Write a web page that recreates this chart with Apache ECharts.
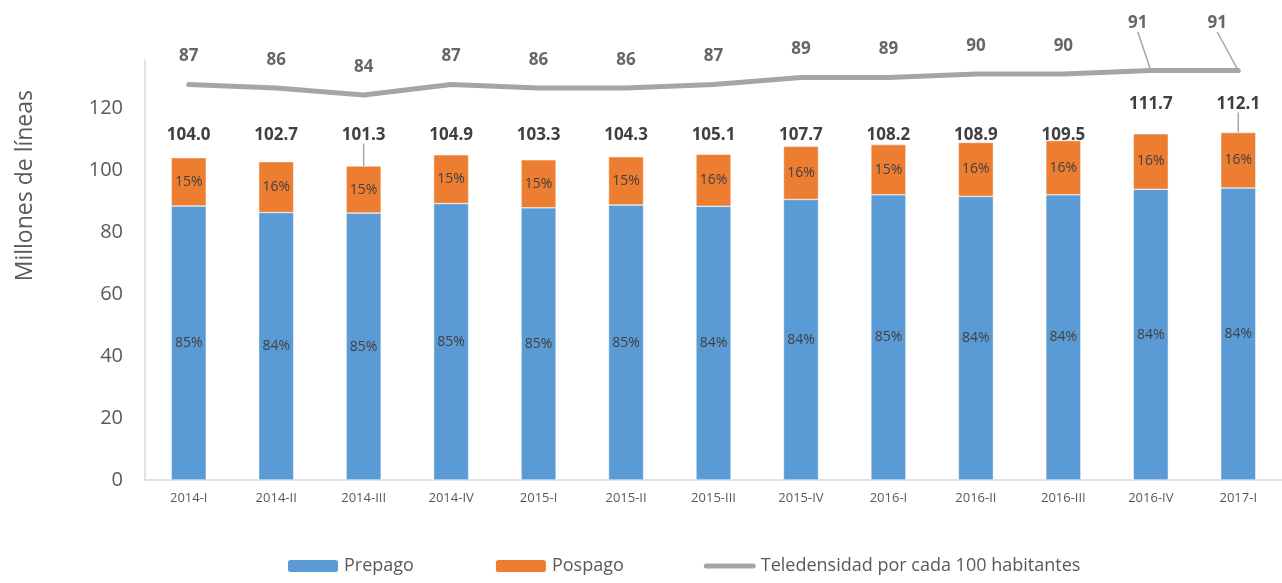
<!DOCTYPE html>
<html>
<head>
<meta charset="utf-8">
<script src="https://cdn.jsdelivr.net/npm/echarts@6/dist/echarts.min.js"></script>
<style>
  html, body { margin: 0; padding: 0; background: #fff; }
  #chart { width: 1282px; height: 583px; }
</style>
</head>
<body>
<div id="chart"></div>
<script>
const categories = ['2014-I', '2014-II', '2014-III', '2014-IV', '2015-I', '2015-II', '2015-III', '2015-IV', '2016-I', '2016-II', '2016-III', '2016-IV', '2017-I']
const prepago = [88.4, 86.3, 86.1, 89.2, 87.8, 88.7, 88.3, 90.5, 92.0, 91.5, 92.0, 93.8, 94.2]
const pospago = [15.6, 16.4, 15.2, 15.7, 15.5, 15.6, 16.8, 17.2, 16.2, 17.4, 17.5, 17.9, 17.9]
const totals = ['104.0', '102.7', '101.3', '104.9', '103.3', '104.3', '105.1', '107.7', '108.2', '108.9', '109.5', '111.7', '112.1']
const prepagoPct = ['85%', '84%', '85%', '85%', '85%', '85%', '84%', '84%', '85%', '84%', '84%', '84%', '84%']
const pospagoPct = ['15%', '16%', '15%', '15%', '15%', '15%', '16%', '16%', '15%', '16%', '16%', '16%', '16%']
const teledensidad = [87, 86, 84, 87, 86, 86, 87, 89, 89, 90, 90, 91, 91]

const font = '"Open Sans", sans-serif'
const textColor = '#595959'
const labelColor = '#404040'
const lineName = 'Teledensidad por cada 100 habitantes'
// thin rounded bar used as the legend icon of the line
const lineIcon = 'path://M2.5,0 L49.5,0 A2.5,2.5 0 0 1 49.5,5 L2.5,5 A2.5,2.5 0 0 1 2.5,0 Z'

const chart = echarts.init(document.getElementById('chart'))
chart.setOption({
  animation: false,
  textStyle: { fontFamily: font },
  grid: {
    left: 145,
    width: 1140,
    top: 60,
    bottom: 103
  },
  legend: {
    bottom: 3,
    left: 281,
    itemWidth: 52,
    itemHeight: 14,
    itemGap: 80,
    textStyle: { fontSize: 18, color: textColor, fontFamily: font },
    data: ['Prepago', 'Pospago', { name: lineName, icon: lineIcon }]
  },
  graphic: [
    {
      type: 'text',
      left: 14,
      top: 90,
      rotation: Math.PI / 2,
      style: {
        text: 'Millones de líneas',
        fontSize: 23,
        fill: textColor,
        fontFamily: font
      }
    }
  ],
  xAxis: {
    type: 'category',
    data: categories,
    axisLine: { lineStyle: { color: '#d9d9d9', width: 1.5 } },
    axisTick: { show: false },
    axisLabel: { color: textColor, fontSize: 13, margin: 12 }
  },
  yAxis: [
    {
      type: 'value',
      min: 0,
      max: 135.5,
      interval: 20,
      axisLine: { show: true, lineStyle: { color: '#d9d9d9', width: 1.5 } },
      axisTick: { show: false },
      splitLine: { show: false },
      axisLabel: {
        color: textColor,
        fontSize: 20,
        margin: 22,
        showMaxLabel: false,
        formatter: function(v) {
          return v % 20 === 0 ? v : ''
        }
      }
    },
    {
      type: 'value',
      min: -26,
      max: 94,
      show: false,
      splitLine: { show: false }
    }
  ],
  series: [
    {
      name: 'Prepago',
      type: 'bar',
      stack: 'lineas',
      barWidth: 35,
      itemStyle: { color: '#5B9BD5', borderColor: '#fff', borderWidth: 0.5 },
      label: {
        show: true,
        position: 'inside',
        color: labelColor,
        fontSize: 14,
        formatter: function(p) {
          return prepagoPct[p.dataIndex]
        }
      },
      data: prepago
    },
    {
      name: 'Pospago',
      type: 'bar',
      stack: 'lineas',
      barWidth: 35,
      itemStyle: { color: '#ED7D31', borderColor: '#fff', borderWidth: 0.5 },
      label: {
        show: true,
        position: 'inside',
        color: labelColor,
        fontSize: 14,
        formatter: function(p) {
          return pospagoPct[p.dataIndex]
        }
      },
      data: pospago
    },
    {
      // zero-height cap that carries the total label
      name: 'totales',
      type: 'bar',
      stack: 'lineas',
      barWidth: 35,
      silent: true,
      itemStyle: { color: 'transparent' },
      label: {
        show: true,
        position: 'top',
        distance: 14,
        color: labelColor,
        fontSize: 17,
        fontWeight: 'bold',
        formatter: function(p) {
          return totals[p.dataIndex]
        }
      },
      labelLine: { lineStyle: { color: '#a5a5a5', width: 1.5 } },
      labelLayout: function(p) {
        // labels sit on one row, the last two were lifted in the original
        return {
          x: p.rect.x + p.rect.width / 2,
          y: p.dataIndex >= 11 ? 104 : 135,
          align: 'center',
          verticalAlign: 'middle'
        }
      },
      data: categories.map(function(c, i) {
        return { value: 0, labelLine: { show: i === 2 || i === 12 } }
      })
    },
    {
      name: lineName,
      type: 'line',
      yAxisIndex: 1,
      symbol: 'none',
      lineStyle: { color: '#A5A5A5', width: 5, cap: 'round', join: 'round' },
      itemStyle: { color: '#A5A5A5' },
      data: teledensidad
    },
    {
      // labels of the line
      name: 'teledensidad-etiquetas',
      type: 'scatter',
      yAxisIndex: 1,
      symbolSize: 1,
      silent: true,
      itemStyle: { color: 'transparent' },
      label: {
        show: true,
        position: 'top',
        distance: 19,
        color: labelColor,
        fontSize: 17,
        fontWeight: 'bold'
      },
      labelLine: { lineStyle: { color: '#a5a5a5', width: 1.5 } },
      labelLayout: function(p) {
        if (p.dataIndex === 11) return { dx: -13, dy: -19 }
        if (p.dataIndex === 12) return { dx: -21, dy: -19 }
        return {}
      },
      data: teledensidad.map(function(v, i) {
        return { value: v, labelLine: { show: i >= 11 } }
      })
    }
  ]
})
</script>
</body>
</html>
